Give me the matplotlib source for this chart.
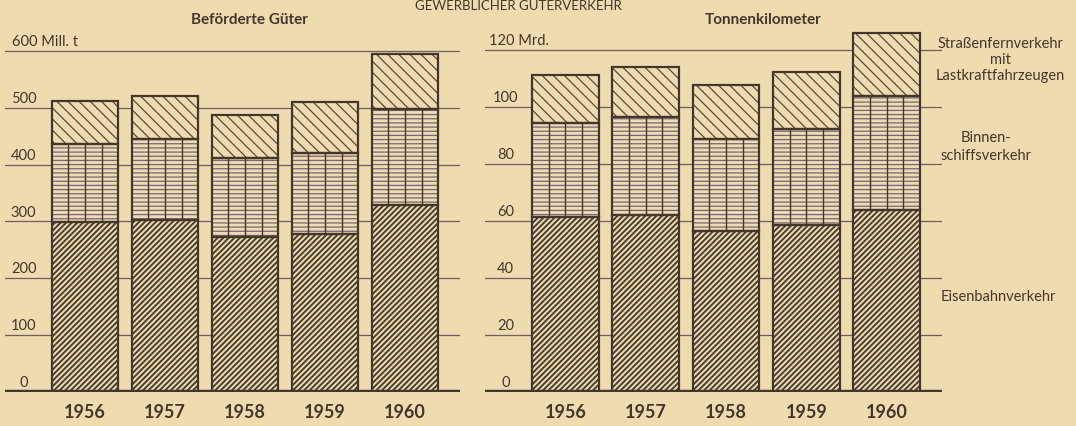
import matplotlib.pyplot as plt
import matplotlib.transforms as mtransforms
import numpy as np

years = ["1956", "1957", "1958", "1959", "1960"]

# Beförderte Güter (Mill. t)
gueter_bahn = [299, 303, 273, 278, 329]
gueter_schiff = [137, 142, 138, 143, 168]
gueter_strasse = [76, 76, 76, 89, 97]

# Tonnenkilometer (Mrd.)
tkm_bahn = [61.5, 62.0, 56.6, 58.5, 63.8]
tkm_schiff = [32.7, 34.4, 32.3, 33.6, 40.0]
tkm_strasse = [17.0, 17.5, 18.7, 20.0, 22.2]

left_ticks = [0, 100, 200, 300, 400, 500, 600]
right_ticks = [0, 20, 40, 60, 80, 100, 120]
left_unit = "600 Mill. t"
right_unit = "120 Mrd."

paper = "#efdbb0"
ink = "#45362b"
grid_col = "#6e5c60"
rail_hatch = "#4a3d32"
ship_hatch = "#76667a"
road_hatch = "#5a4a3e"

plt.rcParams['font.family'] = ['Lato', 'DejaVu Sans']
plt.rcParams['hatch.linewidth'] = 0.9

fig = plt.figure(figsize=(10.76, 4.27), dpi=100, facecolor=paper)


def draw_panel(ax, bahn, schiff, strasse, ticks, unit, ymax, label_x, unit_x):
    x = np.arange(len(years))
    w = 0.83
    bahn = np.array(bahn)
    schiff = np.array(schiff)
    strasse = np.array(strasse)

    for t in ticks[1:]:
        ax.axhline(t, color=grid_col, lw=0.9, zorder=1)
    ax.axhline(0, color=ink, lw=3.2, zorder=5)

    # Eisenbahn - dichter, dunkler Schraffur
    with plt.rc_context({'hatch.linewidth': 1.4}):
        rail = ax.bar(x, bahn, w, color=paper, edgecolor=rail_hatch, hatch='//////', lw=0, zorder=2)
    for p in rail:
        if hasattr(p, 'set_hatch_linewidth'):
            p.set_hatch_linewidth(1.4)
    ax.bar(x, bahn, w, fill=False, edgecolor=ink, lw=1.6, zorder=4)
    # Binnenschiff
    ax.bar(x, schiff, w, bottom=bahn, color=paper, edgecolor=ship_hatch, hatch='----', lw=0, zorder=2)
    for k in [1, 2, 3]:
        ax.vlines(x - w / 2 + w * k / 4, bahn, bahn + schiff, color=ink, lw=1.0, zorder=3)
    ax.bar(x, schiff, w, bottom=bahn, fill=False, edgecolor=ink, lw=1.6, zorder=4)
    # Straße
    ax.bar(x, strasse, w, bottom=bahn + schiff, color=paper, edgecolor=road_hatch, hatch='\\\\\\', lw=0, zorder=2)
    ax.bar(x, strasse, w, bottom=bahn + schiff, fill=False, edgecolor=ink, lw=1.6, zorder=4)

    ax.set_xlim(-1.0, -1.0 + 455 / 80)
    ax.set_ylim(0, ymax)
    ax.set_facecolor('none')
    for s in ax.spines.values():
        s.set_visible(False)
    ax.set_yticks([])
    ax.set_xticks(x, years, fontsize=13, fontweight='bold', color=ink)
    ax.tick_params(axis='x', length=0, pad=8)

    trans = mtransforms.offset_copy(ax.get_yaxis_transform(), fig=fig, y=2, units='points')
    for t in ticks[:-1]:
        ax.text(label_x, t, str(t), transform=trans, ha='center', va='bottom',
                fontsize=10.5, color=ink)
    ax.text(unit_x, ticks[-1], unit, transform=trans, ha='left', va='bottom',
            fontsize=10.5, color=ink)


ax1 = fig.add_axes([5 / 1076, 34 / 427, 455 / 1076, 364 / 427])
draw_panel(ax1, gueter_bahn, gueter_schiff, gueter_strasse, left_ticks, left_unit, 640, 0.041, 0.015)

ax2 = fig.add_axes([485 / 1076, 34 / 427, 457 / 1076, 364 / 427])
draw_panel(ax2, tkm_bahn, tkm_schiff, tkm_strasse, right_ticks, right_unit, 127.7, 0.045, 0.009)

fig.text(249 / 1076, 1 - 24 / 427, "Beförderte Güter", ha='center', va='baseline',
         fontsize=11, fontweight='bold', color=ink)
fig.text(763 / 1076, 1 - 24 / 427, "Tonnenkilometer", ha='center', va='baseline',
         fontsize=11, fontweight='bold', color=ink)
fig.text(518 / 1076, 1 - 10 / 427, "GEWERBLICHER GÜTERVERKEHR", ha='center', va='baseline',
         fontsize=9.5, color=ink)

fig.text(1000 / 1076, 1 - 60 / 427, "Straßenfernverkehr\nmit\nLastkraftfahrzeugen",
         ha='center', va='center', multialignment='center', linespacing=1.15,
         fontsize=10.5, color=ink)
fig.text(986 / 1076, 1 - 147 / 427, "Binnen-\nschiffsverkehr",
         ha='center', va='center', multialignment='center', linespacing=1.3,
         fontsize=10.5, color=ink)
fig.text(998 / 1076, 1 - 297 / 427, "Eisenbahnverkehr",
         ha='center', va='center', fontsize=10.5, color=ink)

plt.savefig("out.png", dpi=100, facecolor=paper)
